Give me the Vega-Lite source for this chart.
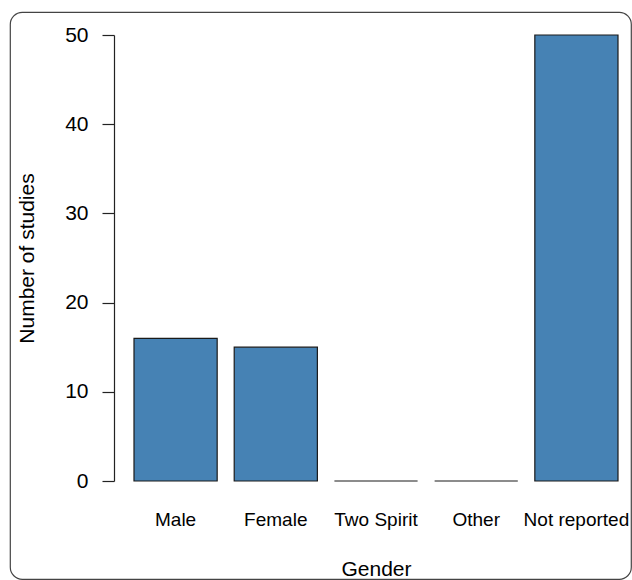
{
  "$schema": "https://vega.github.io/schema/vega-lite/v6.json",
  "autosize": "none",
  "width": 621,
  "height": 567,
  "padding": {"left": 10, "top": 12, "right": 1, "bottom": 1},
  "background": "white",
  "config": {
    "view": {"stroke": "#444444", "strokeWidth": 1.2, "cornerRadius": 12},
    "font": "Liberation Sans"
  },
  "data": {
    "values": [
      {"gender": "Male", "count": 16},
      {"gender": "Female", "count": 15},
      {"gender": "Two Spirit", "count": 0},
      {"gender": "Other", "count": 0},
      {"gender": "Not reported", "count": 50}
    ]
  },
  "mark": {"type": "bar", "fill": "#4682B4", "stroke": "#1a1a1a", "strokeWidth": 1.2},
  "encoding": {
    "x": {
      "field": "gender",
      "type": "nominal",
      "sort": null,
      "scale": {"range": [124, 608], "paddingInner": 0.17, "paddingOuter": 0},
      "axis": {
        "title": "Gender",
        "labelAngle": 0,
        "domain": false,
        "ticks": false,
        "offset": -79,
        "labelPadding": 10,
        "labelFontSize": 19,
        "labelColor": "#000000",
        "labelFont": "Liberation Sans",
        "titleFontSize": 21,
        "titleFontWeight": "normal",
        "titleColor": "#000000",
        "titleFont": "Liberation Sans",
        "titlePadding": 29
      }
    },
    "y": {
      "field": "count",
      "type": "quantitative",
      "scale": {"domain": [0, 50], "range": [469, 23], "nice": false, "zero": true},
      "axis": {
        "title": "Number of studies",
        "values": [0, 10, 20, 30, 40, 50],
        "grid": false,
        "offset": -104,
        "domainColor": "#222222",
        "domainWidth": 1.2,
        "tickColor": "#222222",
        "tickWidth": 1.2,
        "tickSize": 12,
        "labelPadding": 14,
        "labelFontSize": 21,
        "labelColor": "#000000",
        "labelFont": "Liberation Sans",
        "titleFontSize": 21,
        "titleFontWeight": "normal",
        "titleColor": "#000000",
        "titleFont": "Liberation Sans",
        "titlePadding": 27
      }
    }
  }
}
